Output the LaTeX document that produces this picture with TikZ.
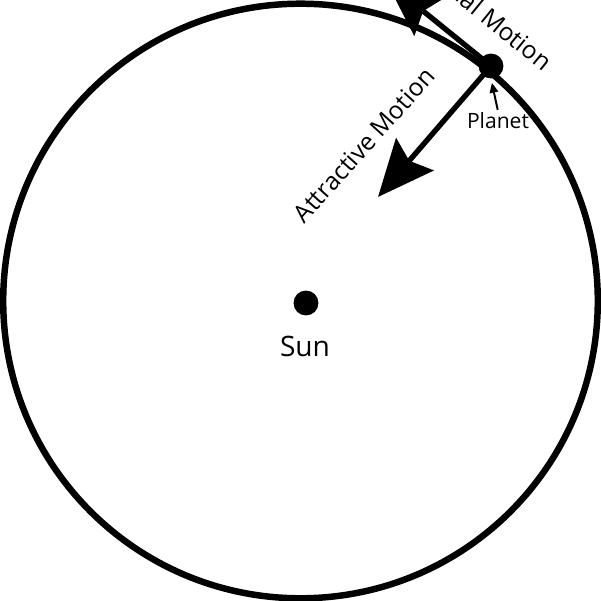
\documentclass[tikz,border=0pt]{standalone}
\usepackage{fontspec}
\setmainfont{Open Sans}
\usetikzlibrary{arrows.meta}
\begin{document}
\begin{tikzpicture}[x=0.025cm, y=0.025cm,
    body/.style={circle, fill=black, inner sep=0pt, minimum size=17.7pt},
    motion/.style={line width=3.8pt, -{Stealth[length=40pt, width=35pt, inset=6pt]}},
    caption/.style={font=\fontsize{17.5}{17.5}\selectfont, inner sep=0pt}]
    % orbit of the planet round the sun
    \clip (0,0) rectangle (601,601);
    \draw[line width=4.6pt] (300.5,300) circle (297.3);
    \node[body] (sun) at (306,298) {};
    \node[body] (planet) at (491,535) {};
    % the two motions of the planet
    \coordinate (pull) at (378,404);
    \coordinate (ahead) at (386,620);
    \draw[motion] (planet.center) -- (pull);
    \draw[motion] (planet.center) -- (ahead);
    \node[caption, rotate=48] (pulllabel) at (364,456) {Attractive Motion};
    \node[caption, rotate=-39.2, anchor=base east] (aheadlabel) at (543,529) {Tangential Motion};
    % labels of the bodies
    \node[font=\fontsize{20}{20}\selectfont] (sunlabel) at (305,255) {Sun};
    \node[font=\fontsize{15}{15}\selectfont, inner sep=1pt] (planetlabel) at (498,480) {Planet};
    \draw[line width=1.4pt, -{Triangle[length=7pt, width=6pt]}, shorten >=3pt, shorten <=1pt]
        (planetlabel.north) -- (planet.south);
\end{tikzpicture}
\end{document}
